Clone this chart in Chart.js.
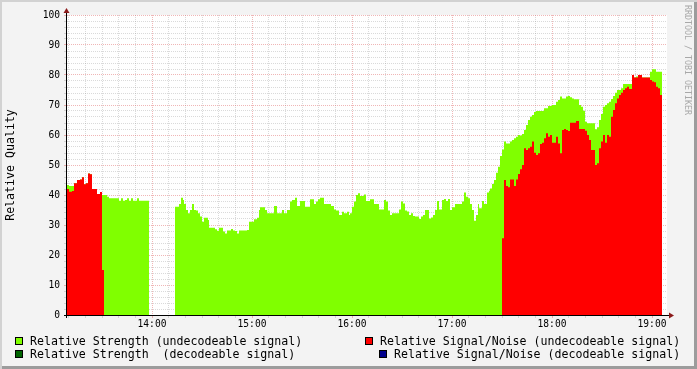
<!DOCTYPE html>
<html>
<head>
<meta charset="utf-8">
<script src="https://cdn.jsdelivr.net/npm/chart.js@4.4.0/dist/chart.umd.min.js"></script>
<style>
  html, body { margin: 0; padding: 0; background: #f3f3f3; }
  #wrap { position: relative; width: 697px; height: 369px; overflow: hidden; font-family: 'DejaVu Sans Mono', monospace; }
  #frame { position: absolute; left: 0; top: 0; width: 697px; height: 369px; box-sizing: border-box;
    box-shadow: inset 2px 2px 0 #d2d2d2, inset -3px -3px 0 #9c9c9c; pointer-events: none; }
  .lg { position: absolute; font-size: 11.6px; line-height: 14px; height: 14px; white-space: pre; color: #000; }
  .box { position: absolute; width: 8px; height: 8px; box-sizing: border-box; border: 1px solid #000; }
  #mark { position: absolute; left: 683px; top: 5px; writing-mode: vertical-rl; font-size: 8.3px; color: #a8a8a8; white-space: pre; }
</style>
</head>
<body>
<div id="wrap">
  <canvas id="qualityChart" width="697" height="369"></canvas>
  <div class="box" style="left:15px;top:337px;background:#80ff00"></div>
  <div class="lg" style="left:30px;top:334px">Relative Strength (undecodeable signal)</div>
  <div class="box" style="left:365px;top:337px;background:#ff0000"></div>
  <div class="lg" style="left:380px;top:334px">Relative Signal/Noise (undecodeable signal)</div>
  <div class="box" style="left:15px;top:350px;background:#006400"></div>
  <div class="lg" style="left:30px;top:347px">Relative Strength  (decodeable signal)</div>
  <div class="box" style="left:379px;top:350px;background:#00008b"></div>
  <div class="lg" style="left:394px;top:347px">Relative Signal/Noise (decodeable signal)</div>
  <div id="mark">RRDTOOL / TOBI OETIKER</div>
  <div id="frame"></div>
</div>
<script>
// times are minutes since midnight, each value holds until the next time

var strengthTime = [
  789.0, 790.2, 793.2, 795.0, 796.8, 798.0, 799.2, 800.4, 801.6, 802.8, 804.0, 807.0, 808.8, 810.0,
  813.0, 814.2, 820.2, 821.4, 822.6, 823.8, 825.0, 826.2, 827.4, 828.6, 831.0, 832.2, 838.2, 846.0,
  853.8, 856.2, 857.4, 858.6, 859.2, 860.4, 861.6, 862.8, 864.0, 865.2, 866.4, 867.6, 868.8, 870.0,
  871.2, 873.6, 874.2, 877.8, 879.0, 880.2, 882.6, 883.8, 885.0, 887.4, 888.6, 889.8, 891.0, 892.2,
  897.0, 898.2, 901.2, 903.0, 904.2, 904.8, 907.8, 909.0, 913.2, 915.0, 918.0, 919.2, 921.0, 922.8,
  924.0, 925.8, 927.0, 928.8, 931.8, 934.8, 937.2, 938.4, 939.6, 940.8, 943.2, 947.4, 949.2, 950.4,
  952.2, 954.0, 955.2, 957.0, 958.2, 958.8, 960.0, 961.2, 962.4, 963.6, 964.8, 967.2, 968.4, 970.8,
  973.2, 976.2, 979.2, 980.4, 981.6, 982.8, 984.0, 988.2, 989.4, 990.6, 991.8, 993.0, 994.2, 995.4,
  996.6, 997.8, 1000.2, 1001.4, 1002.6, 1003.8, 1006.2, 1007.4, 1008.6, 1009.8, 1011.0, 1012.2,
  1014.0, 1015.2, 1016.4, 1017.6, 1018.8, 1020.0, 1021.8, 1026.0, 1027.2, 1028.4, 1029.6, 1030.8,
  1032.0, 1033.2, 1034.4, 1035.6, 1036.2, 1038.0, 1039.2, 1041.0, 1042.2, 1042.8, 1044.0, 1045.2,
  1046.4, 1047.6, 1048.8, 1050.0, 1051.2, 1052.4, 1054.8, 1056.0, 1057.2, 1058.4, 1059.6, 1060.8,
  1062.0, 1063.2, 1064.4, 1065.6, 1066.8, 1068.0, 1069.2, 1070.4, 1075.2, 1077.6, 1080.0, 1082.4,
  1083.6, 1084.8, 1086.0, 1088.4, 1089.6, 1090.8, 1092.0, 1093.2, 1096.2, 1097.4, 1098.6, 1099.8,
  1101.0, 1105.8, 1107.0, 1108.2, 1109.4, 1110.6, 1111.8, 1113.0, 1114.2, 1115.4, 1116.6, 1117.8,
  1119.0, 1121.4, 1122.6, 1128.0, 1129.2, 1130.4, 1131.6, 1134.0, 1138.8, 1140.0, 1142.4, 1146.0
];
var strengthValue = [
  43.3, 43.0, 43.9, 45.0, 45.2, 45.9, 43.6, 43.9, 47.2, 46.9, 42.0, 40.3, 41.0, 40.0,
  39.4, 38.9, 38.1, 38.9, 38.1, 38.3, 38.9, 38.1, 38.9, 38.1, 38.9, 38.1, 38.1, null,
  36.1, 37.0, 39.1, 38.3, 37.0, 35.0, 33.9, 35.0, 37.0, 35.0, 34.8, 33.9, 32.8, 31.1,
  32.4, 31.7, 29.1, 28.6, 28.1, 29.1, 27.8, 27.2, 28.2, 28.7, 28.2, 28.0, 27.2, 28.2,
  28.3, 31.1, 31.9, 32.4, 35.0, 35.9, 35.0, 33.9, 36.3, 33.9, 35.0, 33.9, 35.0, 37.8,
  38.3, 39.1, 36.3, 38.0, 36.1, 38.6, 37.0, 37.8, 38.6, 39.1, 37.0, 36.3, 35.2, 34.8,
  33.3, 34.4, 33.9, 34.4, 33.3, 33.9, 36.1, 37.8, 40.0, 40.6, 39.7, 40.2, 38.0, 38.6,
  37.0, 35.2, 38.3, 37.8, 34.8, 33.3, 33.9, 35.2, 37.8, 37.2, 34.8, 34.5, 33.3, 33.9,
  33.0, 32.8, 32.0, 32.8, 33.3, 35.0, 32.2, 32.5, 33.3, 35.0, 38.0, 35.2,
  38.3, 38.7, 38.0, 38.7, 35.0, 35.9, 37.0, 37.8, 40.8, 39.4, 38.9, 37.0,
  35.0, 31.4, 33.3, 37.0, 35.6, 38.0, 37.0, 40.8, 41.4, 42.2, 43.7, 45.0,
  47.4, 49.4, 53.0, 55.2, 57.8, 57.2, 57.8, 58.3, 58.9, 59.4, 60.0, 59.8,
  60.3, 61.7, 63.3, 65.0, 66.1, 66.7, 67.7, 68.0, 68.9, 69.7, 70.0, 71.1,
  71.7, 72.8, 72.2, 72.8, 73.0, 72.6, 72.2, 71.9, 70.0, 69.4, 68.1, 64.4,
  63.9, 61.9, 62.6, 65.0, 67.0, 69.4, 70.0, 70.6, 71.1, 72.0, 73.0, 74.1,
  75.0, 75.6, 77.0, 80.0, 79.2, 79.5, 80.0, 79.2, 81.1, 81.9, 81.1, 81.1
];

var noiseTime = [
  789.0, 790.2, 792.0, 793.2, 795.0, 796.8, 798.0, 799.2, 800.4, 801.6, 802.8, 804.0, 807.0, 808.8,
  810.0, 811.2, 900.0,
  1050.0, 1051.2, 1052.4, 1053.6, 1054.8, 1057.2, 1058.4, 1059.6, 1060.8, 1062.0, 1063.2, 1064.4,
  1065.6, 1066.8, 1068.0, 1069.2, 1070.4, 1071.6, 1072.8, 1074.0, 1075.2, 1076.4, 1077.6, 1078.8,
  1080.0, 1082.4, 1083.6, 1084.8, 1086.0, 1087.2, 1088.4, 1089.6, 1090.8, 1094.4, 1096.2, 1099.8,
  1101.0, 1102.2, 1103.4, 1105.8, 1107.0, 1108.2, 1109.4, 1110.6, 1111.8, 1113.0, 1114.2, 1115.4,
  1116.6, 1117.8, 1119.0, 1120.2, 1121.4, 1122.6, 1123.8, 1125.0, 1126.2, 1128.0, 1129.2, 1131.6,
  1134.0, 1138.8, 1140.0, 1141.2, 1142.4, 1143.6, 1144.8, 1146.0
];
var noiseValue = [
  42.0, 41.1, 41.3, 43.9, 45.0, 45.2, 45.9, 43.6, 43.9, 47.2, 46.9, 42.0, 40.3, 41.0,
  15.0, 15.0, null,
  25.6, 45.0, 43.0, 42.6, 45.2, 43.0, 45.2, 47.0, 48.6, 50.0, 55.6, 55.0,
  55.6, 56.1, 57.8, 54.1, 53.3, 53.9, 57.0, 57.4, 58.9, 60.6, 59.4, 60.0,
  57.4, 59.4, 57.2, 53.9, 61.7, 62.0, 61.7, 61.3, 64.1, 64.7, 62.0, 61.4,
  60.0, 58.3, 55.0, 50.0, 50.6, 55.6, 57.8, 60.0, 57.4, 60.0, 59.4, 66.1,
  68.3, 70.6, 72.2, 73.3, 74.1, 75.0, 75.6, 76.1, 75.3, 80.0, 79.2, 80.0,
  79.2, 78.3, 77.8, 77.6, 76.1, 75.6, 73.3, 73.3
];

var hourTicks = [840, 900, 960, 1020, 1080, 1140];

function toPoints(times, values) {
  return times.map(function (t, i) { return { x: t, y: values[i] }; });
}

function hhmm(v) {
  var h = Math.floor(v / 60), m = v % 60;
  return h + ':' + (m < 10 ? '0' : '') + m;
}

var minorGrid = 'rgba(140,140,140,0.32)';
var majorGrid = 'rgba(220,80,80,0.42)';
var tickFont = { family: 'DejaVu Sans Mono', size: 9.6 };

var rrdAxes = {
  id: 'rrdAxes',
  beforeDraw: function (chart) {
    var a = chart.chartArea, ctx = chart.ctx;
    ctx.save();
    ctx.fillStyle = '#ffffff';
    ctx.fillRect(a.left, a.top, a.right - a.left, a.bottom - a.top);
    ctx.restore();
  },
  afterDraw: function (chart) {
    var a = chart.chartArea, ctx = chart.ctx;
    var x0 = a.left - 0.5, y0 = a.bottom + 0.5;
    ctx.save();
    ctx.strokeStyle = '#000';
    ctx.lineWidth = 1;
    ctx.beginPath();
    ctx.moveTo(x0, a.bottom + 3);
    ctx.lineTo(x0, a.top - 3);
    ctx.moveTo(a.left - 3, y0);
    ctx.lineTo(a.right + 3, y0);
    ctx.stroke();
    ctx.fillStyle = '#8b1a1a';
    ctx.beginPath();
    ctx.moveTo(x0 - 3, a.top - 2);
    ctx.lineTo(x0 + 3, a.top - 2);
    ctx.lineTo(x0, a.top - 7);
    ctx.closePath();
    ctx.fill();
    ctx.beginPath();
    ctx.moveTo(a.right + 2, y0 - 3);
    ctx.lineTo(a.right + 2, y0 + 3);
    ctx.lineTo(a.right + 7, y0);
    ctx.closePath();
    ctx.fill();
    ctx.restore();
  }
};

var ctx = document.getElementById('qualityChart').getContext('2d');
var qualityChart = new Chart(ctx, {
  type: 'line',
  plugins: [rrdAxes],
  data: {
    datasets: [{
      label: 'Relative Signal/Noise (undecodeable signal)',
      data: toPoints(noiseTime, noiseValue),
      backgroundColor: '#ff0000',
      borderColor: 'transparent',
      borderWidth: 1,
      fill: 'origin',
      stepped: true,
      pointRadius: 0,
      spanGaps: false,
      order: 1
    }, {
      label: 'Relative Strength (undecodeable signal)',
      data: toPoints(strengthTime, strengthValue),
      backgroundColor: '#80ff00',
      borderColor: 'transparent',
      borderWidth: 1,
      fill: 'origin',
      stepped: true,
      pointRadius: 0,
      spanGaps: false,
      order: 2
    }]
  },
  options: {
    responsive: false,
    animation: false,
    events: [],
    layout: { padding: { top: 15, right: 30, left: 0, bottom: 0 } },
    plugins: {
      legend: { display: false },
      tooltip: { enabled: false }
    },
    scales: {
      x: {
        type: 'linear',
        min: 789,
        max: 1149,
        z: 1,
        afterFit: function (s) { s.height = 54; },
        afterBuildTicks: function (s) {
          var t = [];
          for (var v = 790; v <= 1140; v += 10) t.push({ value: v });
          s.ticks = t;
        },
        ticks: {
          autoSkip: false,
          maxRotation: 0,
          padding: 1,
          color: '#000',
          font: tickFont,
          callback: function (v) { return hourTicks.indexOf(v) >= 0 ? hhmm(v) : ''; }
        },
        grid: {
          tickLength: 3,
          color: function (c) { return c.tick && c.tick.value % 60 === 0 ? majorGrid : minorGrid; }
        },
        border: { display: false, dash: [1, 1] }
      },
      y: {
        min: 0,
        max: 100,
        z: 1,
        afterFit: function (s) { s.width = 67; },
        afterBuildTicks: function (s) {
          var t = [];
          for (var v = 0; v <= 100; v += 2) t.push({ value: v });
          s.ticks = t;
        },
        title: {
          display: true,
          text: 'Relative Quality',
          color: '#000',
          font: { family: 'DejaVu Sans Mono', size: 11.6 },
          padding: { top: 4, bottom: 0 }
        },
        ticks: {
          autoSkip: false,
          padding: 4,
          color: '#000',
          font: tickFont,
          callback: function (v) { return v % 10 === 0 ? String(v) : ''; }
        },
        grid: {
          tickLength: 3,
          color: function (c) { return c.tick && c.tick.value % 10 === 0 ? majorGrid : minorGrid; }
        },
        border: { display: false, dash: [1, 1] }
      }
    }
  }
});
</script>
</body>
</html>
